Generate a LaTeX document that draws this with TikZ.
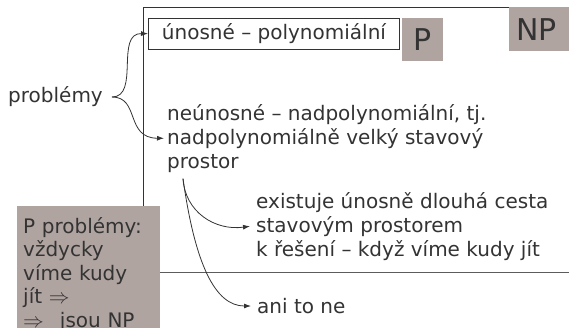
\documentclass[tikz,border=0pt]{standalone}
\usepackage{fontspec}
\setmainfont{DejaVu Sans}
\usetikzlibrary{positioning}
\usetikzlibrary{arrows.meta}
\definecolor{boxgray}{HTML}{B0A4A1}
\definecolor{ink}{HTML}{333333}

\begin{document}
\begin{tikzpicture}[x=1pt,y=-1pt]

\tikzstyle{grayBox}=[rectangle,fill=boxgray,text=ink,inner sep=0pt];
\tikzstyle{txt}=[align=left,text=ink,inner sep=0pt,font=\fontsize{20}{24}\selectfont];
\tikzstyle{arr}=[-{Latex[length=7pt,width=5pt]},draw=ink,line width=0.8pt];

\useasboundingbox (0,0) rectangle (569,327);

% NP frame
\draw [ink,line width=1.1pt] (143.5,272.5) -- (143.5,7.5) -- (575,7.5);
\draw [ink!80,line width=1.6pt] (143.5,272.5) -- (575,272.5);

\node [txt,draw=ink,line width=0.9pt,anchor=north west,minimum width=251pt,minimum height=31.5pt,align=center] (easy) at (148,17.5) {únosné – polynomiální};
\node [grayBox,right=2pt of easy.north east,anchor=north west,minimum width=41pt,minimum height=43pt,font=\fontsize{30}{36}\selectfont] (p) {P};
\node [grayBox,anchor=north west,text width=48pt,inner xsep=7pt,minimum height=44pt,align=left,font=\fontsize{30}{36}\selectfont] (np) at (509,7) {NP};

\node [txt,anchor=west] (prob) at (8,97) {problémy};
\node [txt,anchor=north west] (hard) at (167,104) {neúnosné – nadpolynomiální, tj.\\nadpolynomiálně velký stavový\\prostor};

\draw [arr] ([xshift=9pt]prob.east) .. controls (140,97) and (115,33) .. (easy.west);
\draw [arr] ([xshift=9pt]prob.east) .. controls (140,97) and (125,138) .. ([xshift=-3pt]hard.west);

\node [txt,anchor=north west] (path) at (256,192) {existuje únosně dlouhá cesta\\stavovým prostorem\\k řešení – když víme kudy jít};
\node [txt,anchor=west] (ani) at (257,306) {ani to ne};

\coordinate (from) at ([xshift=16pt,yshift=-6pt]hard.south west);
\draw [arr] (from) .. controls (185,212) and (215,231) .. ([xshift=-6pt]path.west);
\draw [arr] (from) .. controls (195,264) and (215,306) .. ([xshift=-6pt]ani.west);

% P problems box
\node [grayBox,anchor=north west,text width=131pt,inner xsep=6pt,inner ysep=11pt,align=left,font=\fontsize{20}{23.5}\selectfont] (pbox) at (17,206) {P problémy:\\vždycky\\víme kudy\\jít $\Rightarrow$\\$\Rightarrow$\hspace{16pt}jsou NP};

\end{tikzpicture}
\end{document}
